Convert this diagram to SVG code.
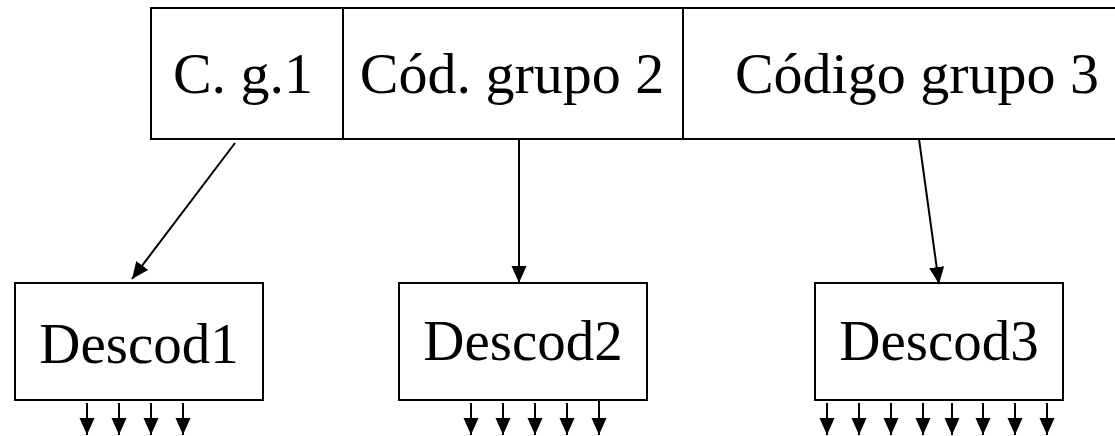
<svg xmlns="http://www.w3.org/2000/svg" width="1115" height="436" viewBox="0 0 1115 436">
<style>
  .box { fill: #ffffff; stroke: #000000; stroke-width: 2; }
  .div { stroke: #000000; stroke-width: 2; }
  .t1 { font-family: "Liberation Serif", "Times New Roman", serif; font-size: 58px; fill: #000000; text-anchor: middle; }
  .t2 { font-family: "Liberation Serif", "Times New Roman", serif; font-size: 57px; fill: #000000; text-anchor: middle; }
  .edge { stroke: #000000; stroke-width: 2; fill: none; marker-end: url(#ah); }
</style>
<defs>
  <marker id="ah" markerUnits="userSpaceOnUse" markerWidth="18" markerHeight="16" refX="17" refY="7.5" orient="auto">
    <path d="M0,0 L17,7.5 L0,15 z" fill="#000000"/>
  </marker>
</defs>
<rect width="1115" height="436" fill="#ffffff"/>
<g id="codigo">
  <rect class="box" x="151" y="8" width="1020" height="131"/>
  <line class="div" x1="343" y1="8" x2="343" y2="139"/>
  <line class="div" x1="683" y1="8" x2="683" y2="139"/>
  <text class="t1" x="243" y="93">C. g.1</text>
  <text class="t1" x="512" y="93">Cód. grupo 2</text>
  <text class="t1" x="917" y="93">Código grupo 3</text>
</g>
<g id="descod1">
  <rect class="box" x="15" y="283" width="248" height="117"/>
  <text class="t2" x="139" y="363">Descod1</text>
</g>
<g id="descod2">
  <rect class="box" x="399" y="283" width="248" height="117"/>
  <text class="t2" x="523" y="360">Descod2</text>
</g>
<g id="descod3">
  <rect class="box" x="815" y="283" width="248" height="117"/>
  <text class="t2" x="939" y="360">Descod3</text>
</g>
<g id="connectors">
  <line class="edge" x1="235" y1="143" x2="132" y2="279"/>
  <line class="edge" x1="519" y1="139" x2="519" y2="283"/>
  <line class="edge" x1="919" y1="139" x2="939" y2="284"/>
  <line class="edge" x1="87" y1="403" x2="87" y2="435"/>
  <line class="edge" x1="119" y1="403" x2="119" y2="435"/>
  <line class="edge" x1="151" y1="403" x2="151" y2="435"/>
  <line class="edge" x1="183" y1="403" x2="183" y2="435"/>
  <line class="edge" x1="471" y1="403" x2="471" y2="435"/>
  <line class="edge" x1="503" y1="403" x2="503" y2="435"/>
  <line class="edge" x1="535" y1="403" x2="535" y2="435"/>
  <line class="edge" x1="567" y1="403" x2="567" y2="435"/>
  <line class="edge" x1="599" y1="400" x2="599" y2="435"/>
  <line class="edge" x1="827" y1="403" x2="827" y2="435"/>
  <line class="edge" x1="859" y1="403" x2="859" y2="435"/>
  <line class="edge" x1="891" y1="403" x2="891" y2="435"/>
  <line class="edge" x1="923" y1="403" x2="923" y2="435"/>
  <line class="edge" x1="952" y1="403" x2="952" y2="435"/>
  <line class="edge" x1="983" y1="403" x2="983" y2="435"/>
  <line class="edge" x1="1015" y1="403" x2="1015" y2="435"/>
  <line class="edge" x1="1047" y1="403" x2="1047" y2="435"/>
</g>
</svg>
